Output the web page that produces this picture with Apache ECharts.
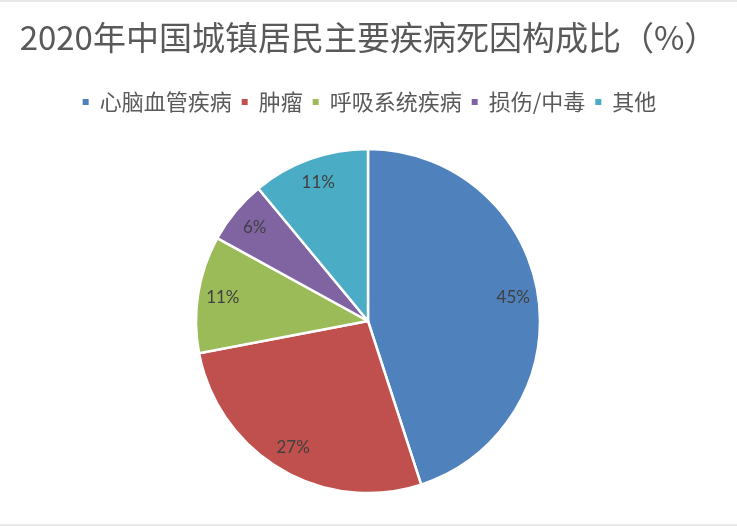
<!DOCTYPE html>
<html>
<head>
<meta charset="utf-8">
<script src="https://cdn.jsdelivr.net/npm/echarts@6/dist/echarts.min.js"></script>
<style>
html,body{margin:0;padding:0;background:#fff;}
#main{width:737px;height:526px;box-sizing:border-box;border-top:2px solid #e8e8e8;border-bottom:2px solid #e8e8e8;}
</style>
</head>
<body>
<div id="main"></div>
<script>
const titleText = '2020年中国城镇居民主要疾病死因构成比（%）';
const categories = ['心脑血管疾病', '肿瘤', '呼吸系统疾病', '损伤/中毒', '其他'];
const values = [45, 27, 11, 6, 11];
const colors = ['#4F81BD', '#C0504D', '#9BBB59', '#8064A2', '#4BACC6'];

const chart = echarts.init(document.getElementById('main'), null, {renderer: 'canvas'});
const cjk = '"Microsoft YaHei","Noto Sans CJK SC",sans-serif';
const mainData = categories.map((n, i) => ({name: n, value: values[i], itemStyle: {color: colors[i]}}));
const labelData = categories.map((n, i) => ({name: n, value: values[i]}));

chart.setOption({
  backgroundColor: '#ffffff',
  animation: false,
  title: {
    text: titleText,
    left: 'center',
    top: 14,
    textStyle: {fontFamily: cjk, fontSize: 33, fontWeight: 'normal', color: '#595959'}
  },
  legend: {
    data: categories,
    top: 84,
    left: 'center',
    icon: 'rect',
    itemWidth: 8,
    itemHeight: 8,
    itemGap: 8,
    selectedMode: false,
    textStyle: {fontFamily: cjk, fontSize: 22, color: '#595959', padding: [0, 0, 0, 5]}
  },
  series: [
    {
      type: 'pie',
      center: [368, 319],
      radius: [0, 172],
      startAngle: 90,
      clockwise: true,
      data: mainData,
      itemStyle: {borderColor: '#ffffff', borderWidth: 2.5},
      label: {show: false},
      labelLine: {show: false},
      emphasis: {disabled: true}
    },
    {
      type: 'pie',
      center: [368, 319],
      radius: [116, 172],
      startAngle: 90,
      clockwise: true,
      silent: true,
      data: labelData,
      itemStyle: {color: 'rgba(0,0,0,0)'},
      label: {
        show: true,
        position: 'inside',
        formatter: '{c}%',
        fontFamily: 'Lato, "Noto Sans", sans-serif',
        fontSize: 17,
        color: '#404040'
      },
      labelLine: {show: false},
      emphasis: {disabled: true}
    }
  ]
});
</script>
</body>
</html>
